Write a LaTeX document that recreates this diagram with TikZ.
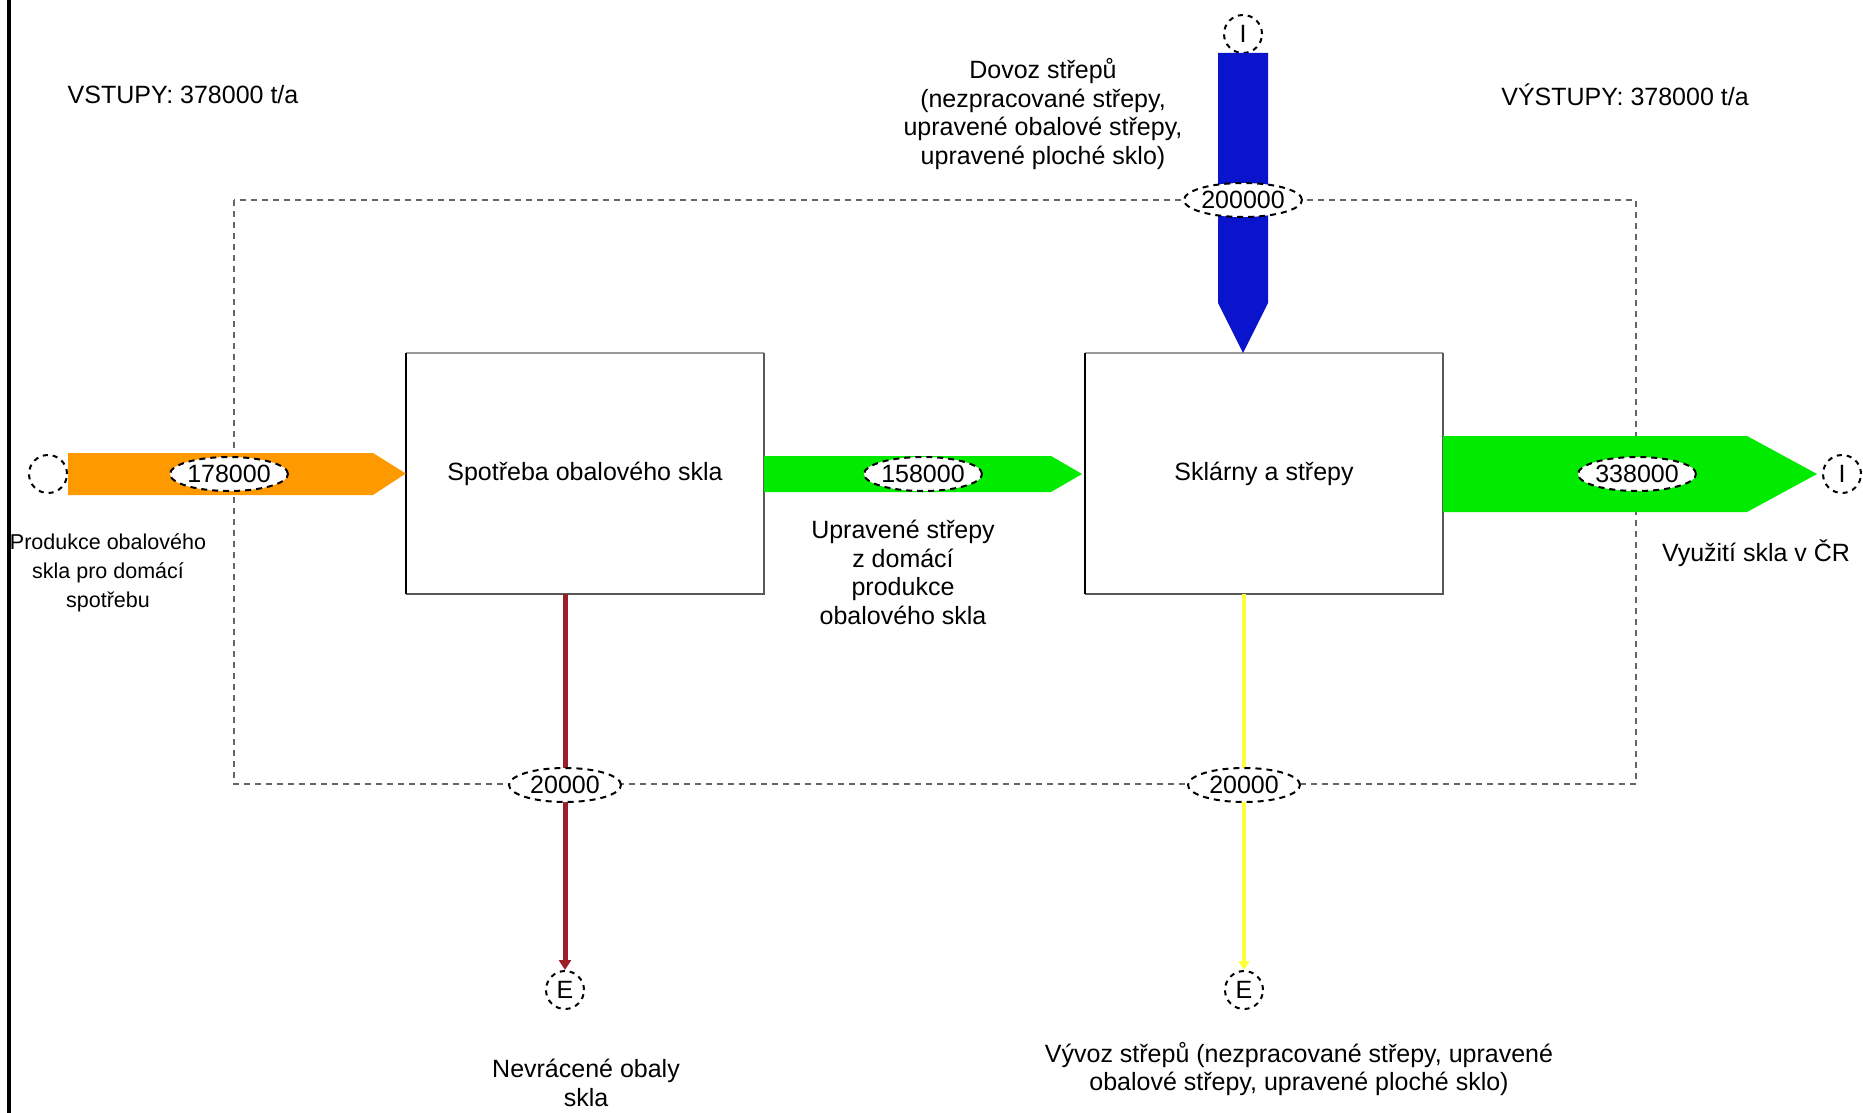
\documentclass[tikz,border=0pt]{standalone}
\usepackage{fontspec}
\setmainfont{Liberation Sans}
\usetikzlibrary{shapes.geometric,arrows.meta}
\definecolor{flowOrange}{RGB}{255,153,0}
\definecolor{flowGreen}{RGB}{0,235,0}
\definecolor{flowBlue}{RGB}{10,20,205}
\definecolor{flowRed}{RGB}{155,30,40}
\definecolor{flowYellow}{RGB}{255,255,60}
\begin{document}
\begin{tikzpicture}[x=1pt,y=-1pt,
 txt/.style={font=\fontsize{25}{28.6}\selectfont, align=center, inner sep=0pt},
 smalltxt/.style={font=\fontsize{21.5}{29}\selectfont, align=center, inner sep=0pt},
 procbox/.style={minimum width=358pt, minimum height=241pt, inner sep=0pt, font=\fontsize{25}{28.6}\selectfont},
 endpt/.style={circle, draw, line width=2pt, dash pattern=on 5pt off 5pt, minimum size=38pt, inner sep=0pt, fill=white, font=\fontsize{25}{28}\selectfont},
 qty/.style={ellipse, draw, line width=2pt, dash pattern=on 6pt off 5pt, fill=white, minimum width=112pt, minimum height=34pt, inner sep=0pt, font=\fontsize{25}{28}\selectfont},
 bound/.style={draw=black!60, line width=2pt, dash pattern=on 6pt off 5pt},
 boxedgeA/.style={draw=black!40, line width=2pt},
 boxedgeB/.style={draw=black!65, line width=2.5pt},
 boxedgeC/.style={draw=black, line width=2.5pt}]
\useasboundingbox[fill=white] (0,0) rectangle (1863,1113);
% left border
\draw[line width=4pt] (9,0) -- (9,1113);
% system boundary
\draw[bound] (234,200) rectangle (1636,784);
% headings
\node[txt] (inTitle) at (183,95) {VSTUPY: 378000 t/a};
\node[txt] (outTitle) at (1625,95) {VÝSTUPY: 378000 t/a};
% processes
\node[procbox] (b1) at (585,473.5) {Spotřeba obalového skla};
\node[procbox] (b2) at (1264,473.5) {Sklárny a střepy};
\foreach \b in {b1,b2}{
  \draw[boxedgeA] (\b.north west) -- (\b.north east);
  \draw[boxedgeB] (\b.north east) -- (\b.south east) -- (\b.south west);
  \draw[boxedgeC] (\b.south west) -- (\b.north west);
}
% end points
\node[endpt] (inL) at (48,474) {};
\node[endpt] (inT) at (1243,34) {I};
\node[endpt] (outR) at (1842,474) {I};
\node[endpt] (E1) at (565,990) {E};
\node[endpt] (E2) at (1244,990) {E};
% flows
\fill[flowOrange] (inL.east |- 0,453) -- (373,453) -- (b1.west) -- (373,495) -- (inL.east |- 0,495) -- cycle;
\fill[flowGreen] (b1.east |- 0,456) -- (1051,456) -- (1082,474) -- (1051,492) -- (b1.east |- 0,492) -- cycle;
\fill[flowGreen] (b2.east |- 0,436) -- (1747,436) -- (1817,474) -- (1747,512) -- (b2.east |- 0,512) -- cycle;
\fill[flowBlue] (1218,53) -- (1268,53) -- (1268,303) -- (1243,353) -- (1218,303) -- cycle;
\draw[flowRed, line width=5pt, -{Triangle[width=12pt,length=10pt]}] (b1.south -| E1) -- (E1.north);
\draw[flowYellow, line width=4pt, -{Triangle[width=11pt,length=9pt]}] (b2.south -| E2) -- (E2.north);
% quantities
\node[qty] (q1) at (229,474) {178000};
\node[qty] (q2) at (923,474) {158000};
\node[qty] (q3) at (1637,474) {338000};
\node[qty] (q4) at (1243,200) {200000};
\node[qty] (q5) at (565,785) {20000};
\node[qty] (q6) at (1244,785) {20000};
% texts
\node[txt] (tTop) at (1043,114) {Dovoz střepů\\(nezpracované střepy,\\upravené obalové střepy,\\upravené ploché sklo)};
\node[smalltxt] (tLeft) at (108,573) {Produkce obalového\\skla pro domácí\\spotřebu};
\node[txt] (tMid) at (903,572.5) {Upravené střepy\\z domácí\\produkce\\obalového skla};
\node[txt] (tRight) at (1756,553) {Využití skla v ČR};
\node[txt] (tBL) at (586,1083) {Nevrácené obaly\\skla};
\node[txt] (tBR) at (1299,1069) {Vývoz střepů (nezpracované střepy, upravené\\obalové střepy, upravené ploché sklo)};
\end{tikzpicture}
\end{document}
